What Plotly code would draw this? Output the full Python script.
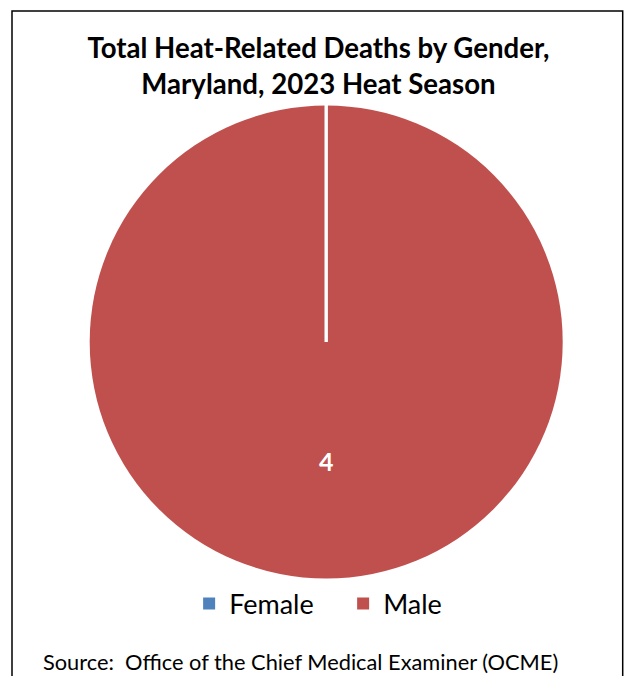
import math
import plotly.graph_objects as go

# ---- data ----
genders = ["Female", "Male"]
deaths = [0, 4]
colors = ["#4F81BD", "#C0504D"]
title_lines = ["Total Heat-Related Deaths by Gender,", "Maryland, 2023 Heat Season"]
source_text = "Source:  Office of the Chief Medical Examiner (OCME)"

W, H = 625, 676


def px_x(x):
    return x / W


def px_y(y):
    return 1 - y / H


dom_x = [px_x(89.7), px_x(562.7)]
dom_y = [px_y(579), px_y(105)]

fig = go.Figure()
fig.add_trace(go.Pie(
    labels=genders,
    values=deaths,
    marker=dict(colors=colors, line=dict(color="white", width=0)),
    sort=False,
    direction="clockwise",
    rotation=0,
    textinfo="none",
    hoverinfo="label+value",
    domain=dict(x=dom_x, y=dom_y),
    showlegend=True,
))

cx = (dom_x[0] + dom_x[1]) / 2
cy = (dom_y[0] + dom_y[1]) / 2
ry = (dom_y[1] - dom_y[0]) / 2
rx = (dom_x[1] - dom_x[0]) / 2

# slice boundaries (white separators) and data labels, derived from values
total = sum(deaths)
start = 0.0
for name, v in zip(genders, deaths):
    frac = v / total
    a0 = start * 2 * math.pi
    fig.add_shape(type="line", xref="paper", yref="paper",
                  x0=cx, y0=cy,
                  x1=cx + rx * math.sin(a0), y1=cy + ry * math.cos(a0),
                  line=dict(color="white", width=3), layer="above")
    if v > 0:
        amid = (start + frac / 2) * 2 * math.pi
        fig.add_annotation(xref="paper", yref="paper",
                           x=cx + 0.575 * rx * math.sin(amid),
                           y=cy + 0.575 * ry * math.cos(amid),
                           text=f"<b>{v}</b>", showarrow=False,
                           font=dict(family="Lato", size=25, color="white"))
    start += frac

# chart frame
fig.add_shape(type="rect", xref="paper", yref="paper",
              x0=px_x(12), x1=px_x(622.7), y0=-0.05, y1=px_y(11),
              line=dict(color="black", width=1.5), fillcolor="rgba(0,0,0,0)")

# source note
fig.add_annotation(xref="paper", yref="paper", x=px_x(42), y=0,
                   xanchor="left", yanchor="bottom", showarrow=False,
                   borderpad=0,
                   text=source_text,
                   font=dict(family="Lato", size=21.8, color="black"))

fig.update_layout(
    width=W, height=H,
    margin=dict(l=0, r=0, t=0, b=0),
    paper_bgcolor="white", plot_bgcolor="white",
    font=dict(family="Lato", color="black"),
    title=dict(text="<b>" + "<br>".join(title_lines) + "</b>",
               x=px_x(318.5), xanchor="center", y=px_y(58), yanchor="top",
               font=dict(family="Lato", size=27.6, color="black")),
    legend=dict(orientation="h", x=0.549, xanchor="center",
                y=px_y(604), yanchor="middle",
                bgcolor="rgba(0,0,0,0)",
                font=dict(family="Lato", size=27, color="black"),
                entrywidth=109, itemwidth=30),
)

fig.write_html("out.html",
               config={"displayModeBar": False},
               post_script="document.body.style.margin='0';")
